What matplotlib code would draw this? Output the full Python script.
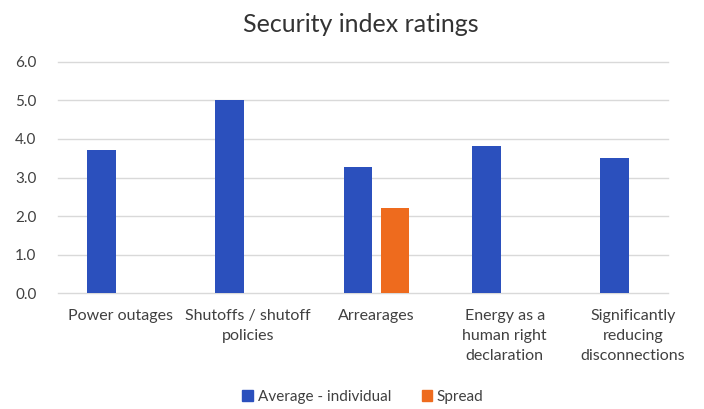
import matplotlib
matplotlib.use("Agg")
import matplotlib.pyplot as plt
import numpy as np
from matplotlib.patches import Patch

categories = ["Power outages", "Shutoffs / shutoff\npolicies", "Arrearages",
              "Energy as a\nhuman right\ndeclaration", "Significantly\nreducing\ndisconnections"]
average_individual = [3.71, 5.0, 3.27, 3.82, 3.51]
spread = [np.nan, np.nan, 2.2, np.nan, np.nan]
y_ticks = [0.0, 1.0, 2.0, 3.0, 4.0, 5.0, 6.0]

blue = "#2B50BD"
orange = "#EE6B1E"
text_color = "#404040"
grid_color = "#D9D9D9"

plt.rcParams["font.family"] = ["Lato", "DejaVu Sans"]

W, H = 704, 409
fig = plt.figure(figsize=(W / 100, H / 100), dpi=100)
ax = fig.add_axes([56 / W, 115.7 / H, 641 / W, 231.6 / H])

x = np.arange(len(categories))
bw = 0.225
off = 0.144
ax.bar(x - off, average_individual, width=bw, color=blue, zorder=3)
ax.bar(x + off, spread, width=bw, color=orange, zorder=3)

ax.set_xlim(-0.5, 4.5)
ax.set_ylim(0, 6)

# horizontal gridlines stop short of the right edge
for yv in y_ticks:
    ax.axhline(yv, xmin=2 / 641, xmax=612 / 641, color=grid_color, lw=1.0, zorder=1, clip_on=False)

for s in ax.spines.values():
    s.set_visible(False)

ax.set_yticks(y_ticks)
ax.set_yticklabels([f"{v:.1f}" for v in y_ticks], fontsize=11, color=text_color)
ax.set_xticks(x)
ax.set_xticklabels(categories, fontsize=11.5, color=text_color, linespacing=1.55)
ax.tick_params(axis="both", length=0)
ax.tick_params(axis="y", pad=14)
ax.tick_params(axis="x", pad=11)

fig.text(361 / W, 1 - 25 / H, "Security index ratings", ha="center", va="center",
         fontsize=18, color="#333333")

handles = [Patch(color=blue, label="Average - individual"), Patch(color=orange, label="Spread")]
fig.legend(handles=handles, loc="center", bbox_to_anchor=(363 / W, 1 - 397 / H), ncol=2,
           frameon=False, fontsize=11, handlelength=0.7, handleheight=0.7,
           handletextpad=0.3, columnspacing=2.0, labelcolor=text_color)

fig.savefig("out.png", dpi=100, facecolor="white")
